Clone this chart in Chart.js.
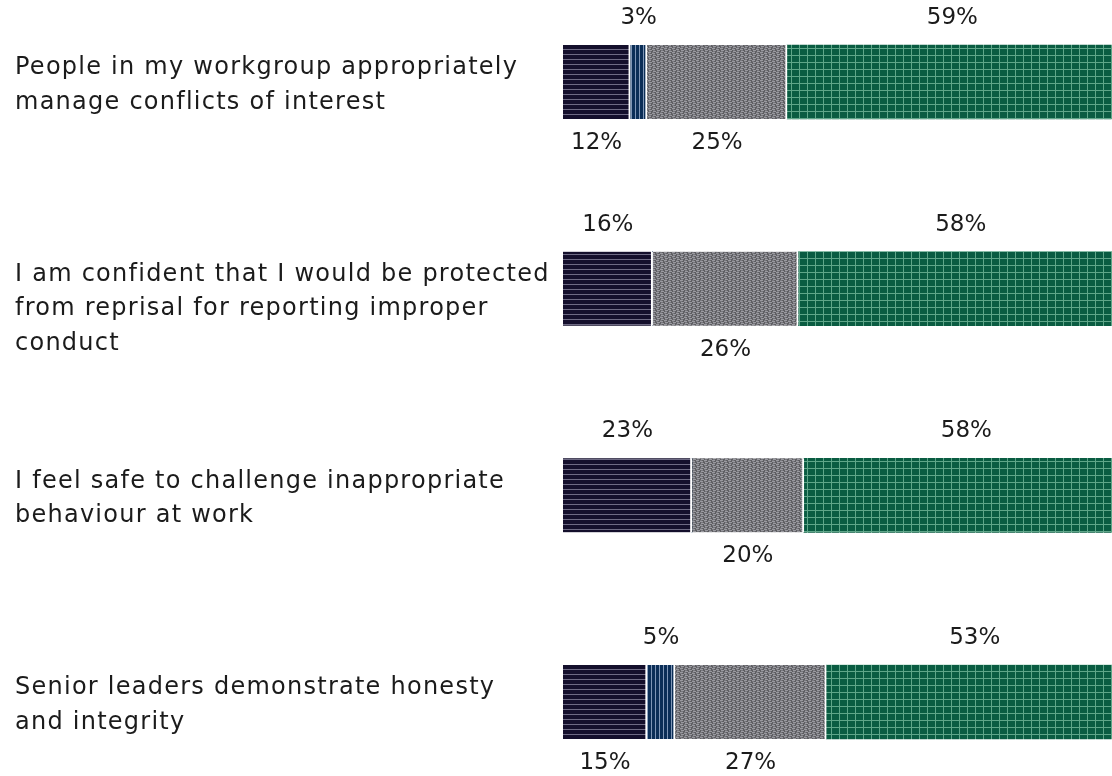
<!DOCTYPE html>
<html>
<head>
<meta charset="utf-8">
<script src="https://cdn.jsdelivr.net/npm/chart.js@4/dist/chart.umd.min.js"></script>
<style>
  html, body { margin: 0; padding: 0; background: #ffffff; }
  #wrap { width: 1112px; height: 776px; position: relative; }
</style>
</head>
<body>
<div id="wrap"><canvas id="c" width="1112" height="776"></canvas></div>
<script>
const categories = [
  ["People in my workgroup appropriately", "manage conflicts of interest"],
  ["I am confident that I would be protected", "from reprisal for reporting improper", "conduct"],
  ["I feel safe to challenge inappropriate", "behaviour at work"],
  ["Senior leaders demonstrate honesty", "and integrity"]
];
const seriesNames = ["Disagree", "Don't know", "Neither agree nor disagree", "Agree"];
const disagree = [12, 16, 23, 15];
const dontKnow = [3, 0, 0, 5];
const neither = [25, 26, 20, 27];
const agree = [59, 58, 58, 53];

function makePattern(w, h, draw) {
  const c = document.createElement('canvas');
  c.width = w; c.height = h;
  const g = c.getContext('2d');
  draw(g, w, h);
  return document.getElementById('c').getContext('2d').createPattern(c, 'repeat');
}
const patDark = makePattern(5, 5, (g, w, h) => {
  g.fillStyle = '#140f2c'; g.fillRect(0, 0, w, h);
  g.fillStyle = '#6e6a84'; g.fillRect(0, 4, w, 1);
});
const patBlue = makePattern(4, 4, (g, w, h) => {
  g.fillStyle = '#0b2e57'; g.fillRect(0, 0, w, h);
  g.fillStyle = '#7f96b6'; g.fillRect(3, 0, 1, h);
});
const patGrey = makePattern(8, 4, (g, w, h) => {
  g.fillStyle = '#5e5e62'; g.fillRect(0, 0, w, h);
  g.fillStyle = '#9a9aa0';
  g.fillRect(0, 0, 3, 1); g.fillRect(4, 1, 3, 1);
  g.fillRect(1, 2, 3, 1); g.fillRect(5, 3, 3, 1);
  g.fillStyle = '#76767c';
  g.fillRect(4, 0, 2, 1); g.fillRect(0, 1, 2, 1);
  g.fillRect(5, 2, 2, 1); g.fillRect(1, 3, 2, 1);
});
const patGreen = makePattern(8, 7, (g, w, h) => {
  g.fillStyle = '#0a5c42'; g.fillRect(0, 0, w, h);
  g.fillStyle = '#5fa689';
  g.fillRect(7, 0, 1, h); g.fillRect(0, 6, w, 1);
});

const fills = [patDark, patBlue, patGrey, patGreen];
const seriesData = [disagree, dontKnow, neither, agree];

const FONT = '24px "DejaVu Sans"';
const PCT_FONT = '23px "DejaVu Sans"';

const labelPlugin = {
  id: 'customLabels',
  afterDatasetsDraw(chart) {
    const ctx = chart.ctx;
    const yScale = chart.scales.y;
    ctx.save();
    ctx.font = FONT;
    const ref = categories[0][0];
    ctx.letterSpacing = '0px';
    const w0 = ctx.measureText(ref).width;
    const sp = Math.max(-1.5, Math.min(2, (502 - w0) / (ref.length - 1)));
    ctx.fillStyle = '#1b1b1b';
    ctx.textBaseline = 'middle';
    ctx.textAlign = 'left';
    ctx.letterSpacing = sp.toFixed(2) + 'px';
    categories.forEach((lines, i) => {
      const yc = yScale.getPixelForValue(i);
      lines.forEach((ln, j) => {
        ctx.fillText(ln, 15, yc - 14 + j * 34.5);
      });
    });
    ctx.letterSpacing = '0px';
    ctx.font = PCT_FONT;
    ctx.textAlign = 'center';
    categories.forEach((_, i) => {
      const nz = [];
      chart.data.datasets.forEach((ds, d) => { if (ds.data[i] > 0) nz.push(d); });
      nz.forEach((d, k) => {
        const fromEnd = nz.length - 1 - k;
        const above = fromEnd % 2 === 0;
        const el = chart.getDatasetMeta(d).data[i];
        const cx = (el.base + el.x) / 2;
        const top = el.y - el.height / 2;
        const bottom = el.y + el.height / 2;
        const ty = above ? top - 27 : bottom + 24;
        ctx.fillText(chart.data.datasets[d].data[i] + '%', cx, ty);
      });
    });
    ctx.restore();
  }
};

new Chart(document.getElementById('c'), {
  type: 'bar',
  data: {
    labels: categories.map(l => l.join(' ')),
    datasets: seriesNames.map((name, d) => ({
      label: name,
      data: seriesData[d],
      backgroundColor: fills[d],
      borderColor: '#ffffff',
      borderWidth: { right: d < 3 ? 2 : 0, left: 0, top: 0, bottom: 0 },
      borderSkipped: false,
      barThickness: 74,
      clip: false
    }))
  },
  options: {
    indexAxis: 'y',
    responsive: false,
    animation: false,
    layout: { padding: { left: 563, right: 0, top: 82, bottom: 74 } },
    scales: {
      x: { stacked: true, min: 0, max: 98, display: false },
      y: { stacked: true, display: false, offset: false }
    },
    plugins: {
      legend: { display: false },
      tooltip: { enabled: false }
    }
  },
  plugins: [labelPlugin]
});
</script>
</body>
</html>
